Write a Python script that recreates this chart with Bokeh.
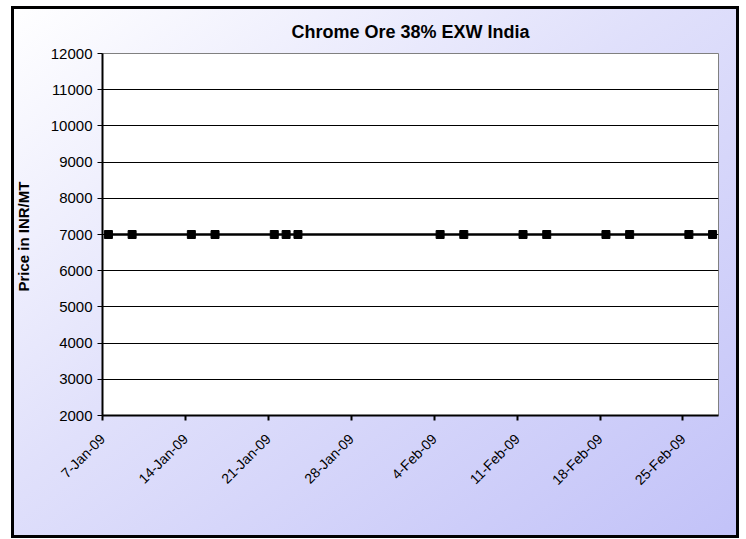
from datetime import datetime, timedelta
from bokeh.plotting import figure
from bokeh.models import Range1d, FixedTicker, ColumnDataSource
from bokeh.embed import file_html
from bokeh.resources import INLINE

# ---- data ----
dates = ["2009-01-07", "2009-01-09", "2009-01-14", "2009-01-16", "2009-01-21",
         "2009-01-22", "2009-01-23", "2009-02-04", "2009-02-06", "2009-02-11",
         "2009-02-13", "2009-02-18", "2009-02-20", "2009-02-25", "2009-02-27"]
prices = [7000, 7000, 7000, 7000, 7000, 7000, 7000, 7000, 7000, 7000,
          7000, 7000, 7000, 7000, 7000]
tick_dates = ["2009-01-07", "2009-01-14", "2009-01-21", "2009-01-28",
              "2009-02-04", "2009-02-11", "2009-02-18", "2009-02-25"]
tick_labels = ["7-Jan-09", "14-Jan-09", "21-Jan-09", "28-Jan-09",
               "4-Feb-09", "11-Feb-09", "18-Feb-09", "25-Feb-09"]
y_ticks = [2000, 3000, 4000, 5000, 6000, 7000, 8000, 9000, 10000, 11000, 12000]

FONT = "Liberation Sans"
EPOCH = datetime(1970, 1, 1)

def ms(d):
    return (d - EPOCH).total_seconds() * 1000.0

parsed = [datetime.strptime(d, "%Y-%m-%d") for d in dates]
# Excel date axis places each point in the middle of its day
xs = [ms(d + timedelta(hours=12)) for d in parsed]
tick_ms = [ms(datetime.strptime(d, "%Y-%m-%d")) for d in tick_dates]

src = ColumnDataSource(dict(x=xs, y=prices))

p = figure(width=728, height=532, output_backend="svg", toolbar_location=None,
           x_axis_type="datetime",
           x_range=Range1d(ms(parsed[0]), ms(parsed[-1] + timedelta(days=1))),
           y_range=Range1d(2000, 12000),
           min_border_left=91, min_border_right=21, min_border_top=47,
           min_border_bottom=123)

p.styles = {
    "margin-left": "11px",
    "margin-top": "6px",
    "background-image": "linear-gradient(to bottom right, #ffffff 0%, #e0e0fb 45%, #c2c2f8 100%)",
    "box-shadow": "inset 0 0 0 3px black",
}
p.border_fill_color = None
p.background_fill_color = "white"
p.outline_line_color = "#808080"
p.outline_line_width = 1

p.title.text = "Chrome Ore 38% EXW India"
p.title.align = "center"
p.title.text_font = FONT
p.title.text_font_size = "18px"
p.title.text_font_style = "bold"
p.title.text_color = "black"
p.title.standoff = 23

p.line("x", "y", source=src, line_color="black", line_width=2.5)
p.scatter("x", "y", source=src, marker="square", size=8,
          fill_color="black", line_color="black")

# axes
xa = p.xaxis[0]
xa.ticker = FixedTicker(ticks=tick_ms)
xa.major_label_overrides = {t: lab for t, lab in zip(tick_ms, tick_labels)}
xa.major_label_orientation = 0.785398
xa.major_label_standoff = 16
xa.major_label_text_font = FONT
xa.major_label_text_font_size = "14px"
xa.major_label_text_color = "black"
xa.axis_line_color = "black"
xa.axis_line_width = 2
xa.major_tick_line_color = "black"
xa.major_tick_line_width = 2
xa.major_tick_out = 5
xa.major_tick_in = 0
xa.minor_tick_line_color = None

ya = p.yaxis[0]
ya.ticker = FixedTicker(ticks=y_ticks)
ya.axis_label = "Price in  INR/MT"
ya.axis_label_text_font = FONT
ya.axis_label_text_font_size = "15px"
ya.axis_label_text_font_style = "bold"
ya.axis_label_text_color = "black"
ya.axis_label_standoff = 16
ya.major_label_text_font = FONT
ya.major_label_text_font_size = "15px"
ya.major_label_text_color = "black"
ya.major_label_standoff = 5
ya.axis_line_color = "black"
ya.axis_line_width = 2
ya.major_tick_line_color = "black"
ya.major_tick_line_width = 1
ya.major_tick_out = 5
ya.major_tick_in = 0
ya.minor_tick_line_color = None

p.xgrid.grid_line_color = None
p.ygrid.grid_line_color = "black"
p.ygrid.grid_line_width = 1

open("out.html", "w").write(file_html(p, INLINE))
